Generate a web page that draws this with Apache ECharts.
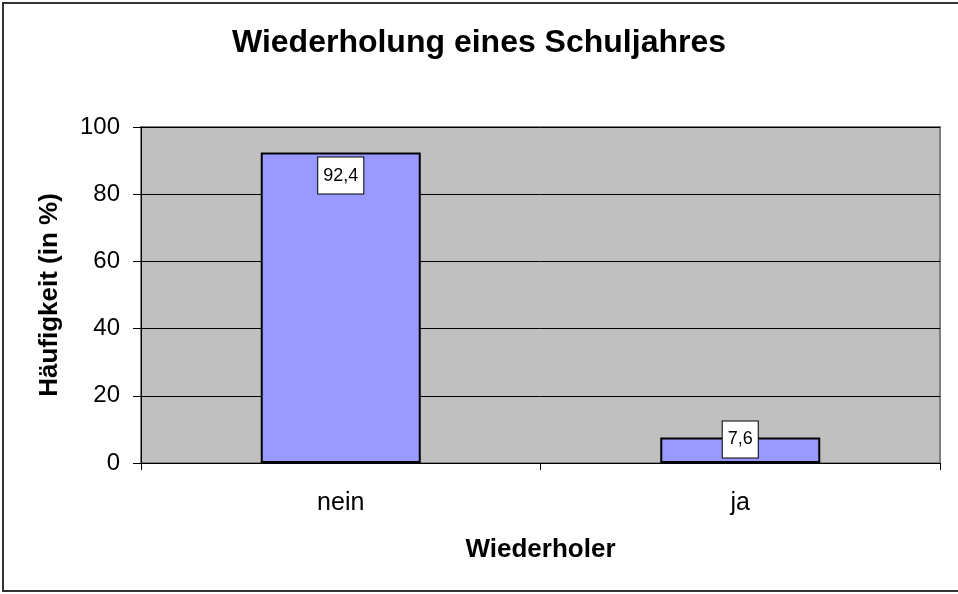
<!DOCTYPE html>
<html><head><meta charset="utf-8">
<script src="https://cdn.jsdelivr.net/npm/echarts@6/dist/echarts.min.js"></script>
<style>html,body{margin:0;padding:0;background:#fff}#c{width:958px;height:594px}</style>
</head><body><div id="c"></div>
<script>
const categories = ['nein', 'ja'];
const values = [92.4, 7.6];
const yTicks = [0, 20, 40, 60, 80, 100];
const titleText = 'Wiederholung eines Schuljahres';
const xName = 'Wiederholer';
const yName = 'Häufigkeit (in %)';

const F = 'Arial, "Liberation Sans", sans-serif';
const chart = echarts.init(document.getElementById('c'));
const labelBase = {
  show: true, color: '#000', fontFamily: F, fontSize: 18,
  backgroundColor: '#fff', borderColor: '#000', borderWidth: 1,
  padding: [9, 5, 9, 5],
  formatter: p => String(p.value).replace('.', ',')
};
chart.setOption({
  animation: false,
  title: { text: titleText, left: 'center', top: 22, textStyle: { fontFamily: F, fontSize: 32, fontWeight: 'bold', color: '#000' } },
  graphic: [{ type: 'rect', shape: { x: 3, y: 3, width: 960, height: 588 }, style: { fill: 'none', stroke: '#333', lineWidth: 2 }, silent: true }],
  grid: { left: 141, top: 127, right: 18, bottom: 131, show: true, backgroundColor: '#c0c0c0', borderColor: '#808080', borderWidth: 2 },
  xAxis: {
    type: 'category', data: categories,
    name: xName, nameLocation: 'middle', nameGap: 74,
    nameTextStyle: { fontFamily: F, fontSize: 26, fontWeight: 'bold', color: '#000' },
    axisLine: { show: true, lineStyle: { color: '#000', width: 1 } },
    axisTick: { show: true, length: 7, lineStyle: { color: '#000' } },
    axisLabel: { fontFamily: F, fontSize: 25, color: '#000', margin: 28 },
    z: 5
  },
  yAxis: {
    type: 'value', min: 0, max: 100, interval: 20,
    name: yName, nameLocation: 'middle', nameGap: 78,
    nameTextStyle: { fontFamily: F, fontSize: 26, fontWeight: 'bold', color: '#000' },
    axisLine: { show: true, lineStyle: { color: '#000', width: 1 } },
    axisTick: { show: true, length: 8, lineStyle: { color: '#000' } },
    axisLabel: { fontFamily: F, fontSize: 24, color: '#000', margin: 21,
      formatter: v => yTicks.includes(v) ? String(v) : '' },
    splitLine: { show: true, lineStyle: { color: '#000', width: 1 } }
  },
  series: [{
    type: 'bar', barWidth: 160,
    itemStyle: { color: '#9999ff', borderColor: '#000', borderWidth: 2 },
    data: values.map((v, i) => ({
      value: v,
      label: i === 0
        ? Object.assign({}, labelBase, { position: 'insideTop', distance: 5 })
        : Object.assign({}, labelBase, { position: 'top', distance: -20 })
    }))
  }]
});
</script></body></html>
